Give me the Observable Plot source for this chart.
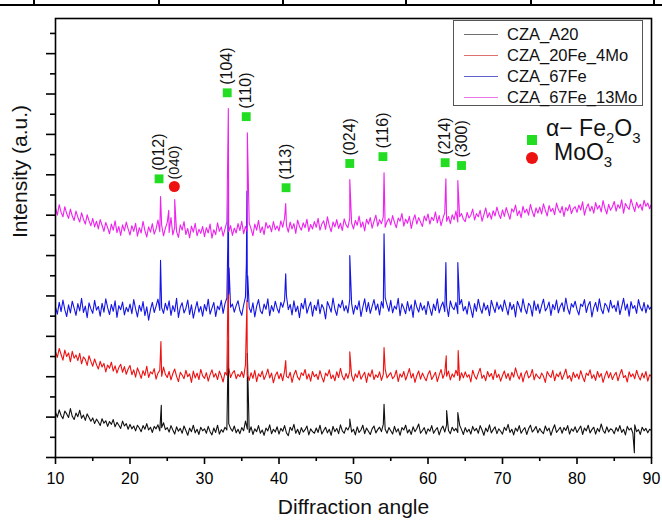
<!DOCTYPE html>
<html>
<head>
<meta charset="utf-8">
<script src="https://cdn.jsdelivr.net/npm/d3@7"></script>
<script src="https://cdn.jsdelivr.net/npm/@observablehq/plot@0.6"></script>
<style>
  html, body { margin: 0; padding: 0; background: #fff; }
  #wrap { position: relative; width: 662px; height: 524px; overflow: hidden; font-family: "Liberation Sans", Arial, sans-serif; }
  #topline { position: absolute; left: 0; top: 4px; width: 662px; height: 0; border-top: 2px solid #000; }
  .vtick { position: absolute; top: 0; width: 0; height: 5px; border-left: 2px solid #000; }
  #legend { position: absolute; left: 453px; top: 20px; width: 188px; height: 84px; border: 1px solid #555; background: #fff; }
  .lrow { position: absolute; left: 0; height: 20px; font-size: 16.5px; line-height: 20px; color: #111; }
  .lrow .sw { position: absolute; left: 10px; top: 10px; width: 34px; height: 0; border-top: 1px solid; }
  .lrow .tx { position: absolute; left: 53px; top: 0; white-space: nowrap; }
  .mk { position: absolute; font-size: 23px; color: #111; white-space: nowrap; line-height: 24px; }
  .mk sub { font-size: 15px; vertical-align: -7px; }
</style>
</head>
<body>
<div id="wrap">
  <div id="topline"></div>
  <div class="vtick" style="left:33px"></div>
  <div class="vtick" style="left:158px"></div>
  <div class="vtick" style="left:282px"></div>
  <div class="vtick" style="left:405px"></div>
  <div class="vtick" style="left:530px"></div>
  <div class="vtick" style="left:653px"></div>
  <div id="chart"></div>
  <div id="legend"></div>
  <div class="mk" style="left:527px; top:125px;"><span style="display:inline-block;width:10px;height:10px;background:#22dd22;"></span></div>
  <div class="mk" style="left:546px; top:116px;">α− Fe<sub>2</sub>O<sub>3</sub></div>
  <div class="mk" style="left:526px; top:144px;"><span style="display:inline-block;width:12px;height:12px;border-radius:6px;background:#ee1111;"></span></div>
  <div class="mk" style="left:554px; top:140px;">MoO<sub>3</sub></div>
</div>
<script>
// ---------- data ----------
const seriesNames = ["CZA_A20", "CZA_20Fe_4Mo", "CZA_67Fe", "CZA_67Fe_13Mo"];
const seriesColors = ["#111111", "#ee1111", "#1414e6", "#ee22ee"];
const legendColors = ["#707070", "#e07070", "#6060d0", "#e878e8"];

const angleStart = 10, angleStep = 0.25;

// baseline intensities (a.u.) sampled every 0.25° from 10° to 90°
const baseA20 = [
112,100,118,104,96,115,108,99,121,102,94,110,101,117,97,105,92,108,99,90,
98,84,95,88,79,96,85,91,77,89,82,94,76,87,80,72,90,78,84,70,
82,71,78,66,80,73,64,79,70,84,68,75,62,77,71,81,66,74,86,69,
74,63,79,68,58,76,65,72,60,78,67,55,73,64,80,61,70,57,75,66,
71,60,77,64,56,73,62,80,58,69,63,75,68,84,72,65,78,61,70,59,
74,66,90,70,62,76,57,71,64,79,60,68,55,73,66,81,59,70,63,76,
58,72,65,79,61,54,75,67,82,60,70,57,74,63,69,78,56,71,64,60,
73,62,80,58,67,75,61,70,55,77,64,72,59,81,66,60,74,68,79,63,
70,56,76,62,68,80,59,73,65,57,71,78,61,69,75,64,82,70,60,74,
66,58,77,63,71,55,74,68,80,61,69,57,76,64,72,83,60,67,74,58,
71,65,79,60,68,74,56,70,78,63,81,67,59,75,66,72,62,80,69,57,
74,63,70,58,77,66,72,60,79,68,55,73,64,81,61,69,76,59,71,65,
58,75,67,82,62,70,56,73,65,79,60,68,74,57,71,80,63,69,77,61,
72,64,59,78,66,73,55,70,81,62,68,75,60,74,67,79,58,71,65,76,
62,70,78,57,73,66,80,61,69,75,58,72,64,83,67,60,76,63,71,68,
59,74,65,79,62,70,56,77,68,73,60,81,64,69,57,75,66,72,61,70,
67];
const base20Fe4Mo = [
262,248,270,255,241,266,250,259,237,263,246,254,240,258,232,249,243,228,252,238,
226,244,230,219,238,224,233,212,229,221,236,214,227,209,223,231,211,225,206,219,
228,205,217,199,222,210,196,215,203,226,198,212,207,220,194,209,216,201,224,206,
198,213,192,208,219,201,188,211,204,195,216,200,207,186,214,197,209,193,218,202,
196,210,189,205,217,199,208,193,214,202,187,211,204,223,198,209,215,195,206,200,
213,198,230,205,191,210,196,216,188,207,200,214,193,204,219,197,209,185,203,212,
195,208,190,214,201,197,211,186,205,216,199,192,210,203,218,194,207,189,213,200,
206,193,215,199,187,209,202,217,195,204,190,212,198,221,201,192,208,196,214,203,
189,207,198,215,194,203,211,186,209,200,217,193,205,198,212,191,206,219,197,204,
210,195,201,216,188,207,199,213,192,205,220,197,208,186,203,214,194,209,199,190,
206,215,193,202,211,188,204,218,196,209,201,214,192,207,199,216,203,191,210,197,
212,199,205,187,216,202,194,209,221,196,204,190,213,200,208,193,217,198,206,189,
203,214,196,208,191,211,199,222,205,194,210,187,206,215,197,202,218,192,207,200,
195,209,201,186,213,204,198,216,190,207,200,212,193,205,219,196,203,189,211,198,
207,194,215,200,188,209,203,217,196,205,191,213,199,208,186,202,214,197,210,193,
204,211,190,206,218,198,203,187,212,200,207,195,216,201,192,209,197,213,189,205,
200];
const base67Fe = [
372,355,384,361,390,366,349,378,358,387,370,352,381,363,394,359,375,346,383,368,
357,389,365,374,350,382,360,393,371,354,379,362,388,347,376,366,385,353,372,361,
380,356,391,368,348,377,362,386,351,373,340,366,384,359,375,392,364,371,357,382,
365,388,352,376,361,394,347,372,383,358,369,390,354,378,345,367,386,360,374,350,
379,363,392,355,370,384,349,375,366,389,357,381,395,405,372,380,360,376,388,364,
352,377,398,386,371,359,383,348,374,391,363,356,380,367,393,351,376,362,387,369,
358,384,372,390,400,366,379,353,388,361,375,346,382,368,394,357,373,385,350,377,
364,391,356,379,369,343,386,374,360,395,367,352,380,371,389,363,376,358,392,381,
355,377,366,388,349,372,393,361,384,357,374,391,365,380,353,386,370,396,378,362,
389,358,375,367,394,351,381,370,356,386,363,378,347,390,372,360,383,365,376,354,
387,369,352,380,364,393,358,374,385,361,377,349,388,372,366,384,356,379,391,363,
374,355,386,368,347,381,362,392,370,357,383,365,377,351,389,373,359,385,367,378,
362,390,371,353,384,366,379,348,387,374,360,393,369,356,382,375,350,388,364,380,
357,376,392,363,371,385,352,379,366,390,358,374,383,361,395,369,355,381,372,387,
366,353,380,374,391,359,377,386,348,371,384,362,393,367,356,382,375,360,389,370,
377,361,388,354,373,394,365,380,350,386,369,376,357,391,372,363,384,358,378,367,
374];
const base67Fe13Mo = [
618,600,626,607,596,621,604,592,615,598,587,610,595,583,606,590,578,601,586,574,
592,571,585,566,589,575,560,582,569,554,578,563,586,557,572,550,576,561,583,566,
551,574,560,580,548,569,556,585,562,546,571,558,579,553,566,588,559,575,549,568,
582,557,594,551,570,560,545,576,563,584,552,567,544,573,558,580,549,565,555,572,
547,569,556,578,543,564,552,581,560,571,548,566,583,559,574,550,568,556,579,562,
585,554,572,560,580,566,549,578,563,587,557,571,552,582,568,575,559,584,564,573,
561,586,570,593,575,558,583,566,579,555,588,572,563,581,569,590,560,577,566,584,
570,592,563,578,586,565,596,574,559,583,571,589,567,580,562,591,576,569,593,580,
566,587,575,598,570,583,561,590,578,594,568,585,600,573,589,579,596,570,584,592,
576,599,582,569,593,585,604,573,590,580,597,567,588,601,578,594,583,572,598,586,
603,578,595,587,608,581,599,574,592,606,585,597,579,601,589,610,583,596,604,590,
584,607,593,600,615,588,604,596,612,585,601,618,594,606,590,611,598,620,603,592,
613,597,619,604,590,616,608,625,599,611,594,622,606,615,600,627,609,596,618,605,
620,603,628,612,598,624,609,617,601,630,614,606,622,597,619,611,626,604,616,621,
607,625,613,633,600,618,628,610,622,605,631,615,624,608,636,617,603,627,612,621,
634,610,626,617,638,605,629,620,614,640,623,609,632,618,627,612,637,622,630,616,
628];

// peak points [angle, intensity]
const peaksA20 = [[24.2,129],[33.2,290],[35.75,258],[49.5,95],[54.1,132],[62.5,116],[64.0,111],[87.7,12]];
const peaks20Fe4Mo = [[24.15,287],[33.2,483],[35.7,389],[40.9,240],[49.5,262],[54.1,272],[62.45,252],[64.05,265]];
const peaks67Fe = [[24.1,488],[33.12,520],[33.2,680],[33.3,470],[35.62,480],[35.7,660],[35.8,450],[40.9,455],[49.5,500],[54.1,554],[62.4,483],[64.0,483]];
const peaks67Fe13Mo = [[24.1,646],[25.2,612],[26.0,639],[33.2,864],[35.75,804],[40.9,629],[49.5,688],[54.1,705],[62.4,690],[64.0,686]];

// reflection markers
const hklLabels = ["(012)", "(104)", "(110)", "(113)", "(024)", "(116)", "(214)", "(300)"];
const hklAngles = [23.9, 33.05, 35.6, 40.95, 49.5, 53.95, 62.3, 64.5];
const hklHeights = [690, 903, 844, 668, 728, 745, 730, 723];
const mooLabels = ["(040)"];
const mooAngles = [25.95];
const mooHeights = [671];

const xMajor = [10, 20, 30, 40, 50, 60, 70, 80, 90];
const xMinor = [15, 25, 35, 45, 55, 65, 75, 85];
const yMajor = [0, 100, 200, 300, 400, 500, 600, 700, 800, 900, 1000];
const yMinor = [50, 150, 250, 350, 450, 550, 650, 750, 850, 950, 1050];

// ---------- build ----------
function buildSeries(name, base, peaks) {
  const pts = base.map((v, i) => ({x: angleStart + i * angleStep, y: v, s: name}));
  for (const [x, y] of peaks) pts.push({x, y, s: name});
  pts.sort((a, b) => a.x - b.x);
  return pts;
}
const allBase = [baseA20, base20Fe4Mo, base67Fe, base67Fe13Mo];
const allPeaks = [peaksA20, peaks20Fe4Mo, peaks67Fe, peaks67Fe13Mo];
const series = seriesNames.map((n, i) => buildSeries(n, allBase[i], allPeaks[i]));

const hkl = hklLabels.map((t, i) => ({t, x: hklAngles[i], y: hklHeights[i]}));
const moo = mooLabels.map((t, i) => ({t, x: mooAngles[i], y: mooHeights[i]}));

const font = "'Liberation Sans', Arial, sans-serif";
const blank = () => "";

const chart = Plot.plot({
  width: 662,
  height: 524,
  marginLeft: 55,
  marginRight: 11,
  marginTop: 18,
  marginBottom: 67,
  x: {domain: [10, 90]},
  y: {domain: [0, 1087]},
  style: {fontFamily: font, color: "#000", background: "transparent", overflow: "visible"},
  marks: [
    ...series.map((d, i) => Plot.line(d, {x: "x", y: "y", stroke: seriesColors[i], strokeWidth: 1.1})),
    Plot.frame({stroke: "#000", strokeWidth: 1.6}),
    Plot.axisX({ticks: xMajor, tickSize: 7, tickPadding: 8, fontSize: 16, label: null, strokeWidth: 1.6}),
    Plot.axisX({ticks: xMinor, tickSize: 4, tickFormat: blank, label: null, strokeWidth: 1.6}),
    Plot.axisY({ticks: yMajor, tickSize: 9, tickFormat: blank, label: null, strokeWidth: 1.6}),
    Plot.axisY({ticks: yMinor, tickSize: 5, tickFormat: blank, label: null, strokeWidth: 1.6}),
    Plot.dot(hkl, {x: "x", y: "y", symbol: "square", r: 5, fill: "#22dd22", stroke: null}),
    Plot.text(hkl, {x: "x", y: "y", text: "t", rotate: -90, textAnchor: "start", dy: -8, fontSize: 16, fill: "#111"}),
    Plot.dot(moo, {x: "x", y: "y", symbol: "circle", r: 5.5, fill: "#ee1111", stroke: null}),
    Plot.text(moo, {x: "x", y: "y", text: "t", rotate: -90, textAnchor: "start", dy: -7, fontSize: 14.5, fill: "#111"}),
    Plot.text(["Diffraction angle"], {frameAnchor: "bottom", dy: 56, fontSize: 21, fill: "#111"}),
    Plot.text(["Intensity (a.u.)"], {frameAnchor: "left", rotate: -90, dx: -35, fontSize: 21, fill: "#111"})
  ]
});
document.getElementById("chart").appendChild(chart);

// legend
const leg = document.getElementById("legend");
seriesNames.forEach((n, i) => {
  const row = document.createElement("div");
  row.className = "lrow";
  row.style.top = (3 + i * 21) + "px";
  row.innerHTML = `<span class="sw" style="border-color:${legendColors[i]}"></span><span class="tx">${n}</span>`;
  leg.appendChild(row);
});
</script>
</body>
</html>
